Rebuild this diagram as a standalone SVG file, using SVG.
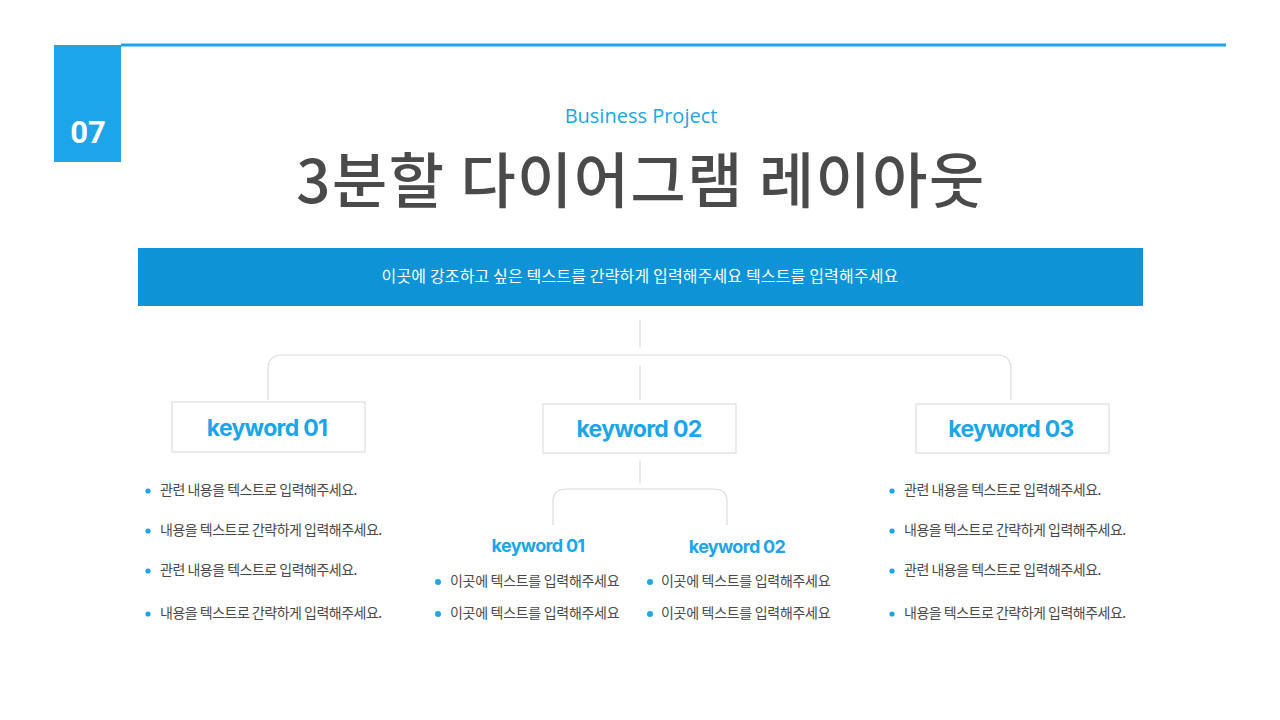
<svg xmlns="http://www.w3.org/2000/svg" width="1280" height="720" viewBox="0 0 1280 720">
<style>
.kr{font-family:"Noto Sans CJK KR","Noto Sans",sans-serif;}
.bl{font-family:"Noto Sans CJK KR","Noto Sans",sans-serif;font-size:14px;fill:#4a4a4a;letter-spacing:-0.5px;}
.bs{letter-spacing:-0.3px;}
.kw{font-family:Inter,"Noto Sans",sans-serif;font-weight:700;fill:#1ca5e8;text-anchor:middle;letter-spacing:-0.7px;}
.box{fill:#fff;stroke:#dedede;stroke-width:1.2;}
.ln{fill:none;stroke:#dcdcdc;stroke-width:1.2;}
.dot{fill:#1ca5e8;}
</style>
<rect width="1280" height="720" fill="#fff"/>
<g id="header">
<rect x="121" y="43.5" width="1105" height="3" fill="#1ca5e8"/>
<rect x="54" y="45" width="67" height="117" fill="#1ca5e8"/>
<text x="88" y="143" font-family="Roboto,'Noto Sans',sans-serif" font-weight="700" font-size="31" fill="#fff" text-anchor="middle">07</text>
<text x="641" y="123" font-family="'Open Sans','Noto Sans',sans-serif" font-size="20" fill="#1ca5e8" text-anchor="middle" letter-spacing="0">Business Project</text>
<text x="641" y="203" class="kr" font-size="60" font-weight="500" fill="#4a4a4a" text-anchor="middle" letter-spacing="1.5">3분할 다이어그램 레이아웃</text>
</g>
<g id="banner">
<rect x="138" y="248" width="1005" height="58" fill="#0d93d6"/>
<text x="640" y="282" class="kr" font-size="16" fill="#fff" text-anchor="middle" letter-spacing="0.15">이곳에 강조하고 싶은 텍스트를 간략하게 입력해주세요 텍스트를 입력해주세요</text>
</g>
<g id="connectors">
<line class="ln" x1="640" y1="320" x2="640" y2="348"/>
<path class="ln" d="M268,400 V369 Q268,355 282,355 H997 Q1011,355 1011,369 V400"/>
<line class="ln" x1="640" y1="365" x2="640" y2="400"/>
<line class="ln" x1="640" y1="460" x2="640" y2="484"/>
<path class="ln" d="M553,525 V502 Q553,489 566,489 H714 Q727,489 727,502 V525"/>
</g>
<g id="node-keyword01">
<rect class="box" x="172" y="402" width="193" height="50"/>
<text class="kw" x="267" y="436" font-size="23">keyword 01</text>
</g>
<g id="node-keyword02">
<rect class="box" x="543" y="404" width="193" height="49"/>
<text class="kw" x="639" y="437" font-size="23">keyword 02</text>
</g>
<g id="node-keyword03">
<rect class="box" x="916" y="404" width="193" height="49"/>
<text class="kw" x="1011" y="437" font-size="23">keyword 03</text>
</g>
<g id="list-left">
<circle class="dot" cx="148" cy="491" r="2.6"/>
<text class="bl" x="160" y="495">관련 내용을 텍스트로 입력해주세요.</text>
<circle class="dot" cx="148" cy="531" r="2.6"/>
<text class="bl" x="160" y="535">내용을 텍스트로 간략하게 입력해주세요.</text>
<circle class="dot" cx="148" cy="571" r="2.6"/>
<text class="bl" x="160" y="575">관련 내용을 텍스트로 입력해주세요.</text>
<circle class="dot" cx="148" cy="614" r="2.6"/>
<text class="bl" x="160" y="618">내용을 텍스트로 간략하게 입력해주세요.</text>
</g>
<g id="sub-keyword01">
<text class="kw" x="538" y="552" font-size="18">keyword 01</text>
<circle class="dot" cx="438" cy="582" r="3"/>
<text class="bl bs" x="450" y="586">이곳에 텍스트를 입력해주세요</text>
<circle class="dot" cx="438" cy="614" r="3"/>
<text class="bl bs" x="450" y="618">이곳에 텍스트를 입력해주세요</text>
</g>
<g id="sub-keyword02">
<text class="kw" x="737" y="553" font-size="18">keyword 02</text>
<circle class="dot" cx="650" cy="582" r="3"/>
<text class="bl bs" x="661" y="586">이곳에 텍스트를 입력해주세요</text>
<circle class="dot" cx="650" cy="614" r="3"/>
<text class="bl bs" x="661" y="618">이곳에 텍스트를 입력해주세요</text>
</g>
<g id="list-right">
<circle class="dot" cx="892" cy="491" r="2.6"/>
<text class="bl" x="904" y="495">관련 내용을 텍스트로 입력해주세요.</text>
<circle class="dot" cx="892" cy="531" r="2.6"/>
<text class="bl" x="904" y="535">내용을 텍스트로 간략하게 입력해주세요.</text>
<circle class="dot" cx="892" cy="571" r="2.6"/>
<text class="bl" x="904" y="575">관련 내용을 텍스트로 입력해주세요.</text>
<circle class="dot" cx="892" cy="614" r="2.6"/>
<text class="bl" x="904" y="618">내용을 텍스트로 간략하게 입력해주세요.</text>
</g>
</svg>
